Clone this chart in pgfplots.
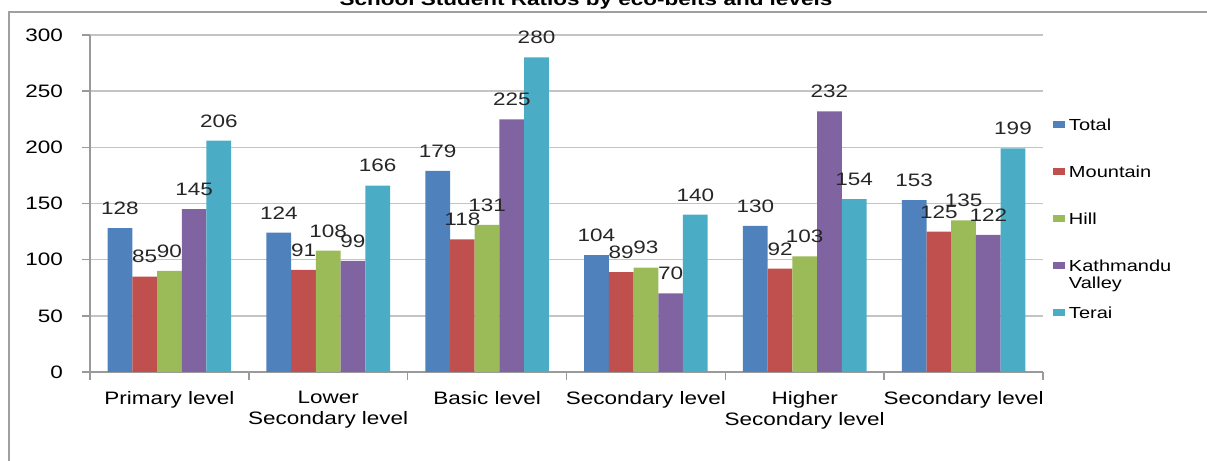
\documentclass[border=0pt]{standalone}
\usepackage{fontspec}
\setmainfont{Liberation Sans}[FakeStretch=1.25]
\usepackage{pgfplots}
\pgfplotsset{compat=1.18}

\definecolor{cTotal}{HTML}{4F81BD}
\definecolor{cMountain}{HTML}{C0504D}
\definecolor{cHill}{HTML}{9BBB59}
\definecolor{cKtm}{HTML}{8064A2}
\definecolor{cTerai}{HTML}{4BACC6}
\definecolor{gridgrey}{HTML}{C4C4C4}
\definecolor{axgrey}{HTML}{9A9A9A}
\definecolor{framegrey}{HTML}{A0A0A0}

\begin{document}
\begin{tikzpicture}[x=1pt,y=1pt]
\begin{axis}[
    at={(0,0)}, anchor=south west,
    width=476.5pt, height=168.5pt, scale only axis,
    ybar=0pt, bar width=0.1556,
    xmin=-0.5, xmax=5.5, ymin=0, ymax=300,
    ytick={0,50,...,300},
    xtick={-0.5,0.5,...,5.5},
    x tick label as interval,
    xticklabels={Primary level, {Lower\\Secondary level}, Basic level, Secondary level, {Higher\\Secondary level}, Secondary level},
    xticklabel style={align=center, font=\fontsize{9}{10.5}\selectfont, yshift=-2pt},
    yticklabel style={font=\fontsize{9}{10.5}\selectfont, xshift=-6pt},
    /pgf/number format/assume math mode=true,
    axis x line*=bottom, axis y line*=left,
    axis line style={draw=axgrey, line width=0.75pt, -},
    tick align=outside, tick style={axgrey, line width=0.75pt},
    major tick length=4pt,
    ymajorgrids, grid style={gridgrey, line width=0.75pt},
    nodes near coords,
    every node near coord/.append style={font=\fontsize{9}{10.5}\selectfont, inner sep=0pt, yshift=6.5pt, anchor=south, text=black!85},
    legend style={at={(1.0105,0.751)}, anchor=north west, draw=none, fill=none,
        inner sep=0pt, outer sep=0pt, font=\fontsize{8}{9}\selectfont,
        row sep=17.45pt, column sep=2pt,
        nodes={inner sep=0pt, text height=6pt, text depth=0pt}},
    legend cell align=left,
    legend image code/.code={\fill[#1] (0pt,-1.6pt) rectangle (6pt,1.9pt);},
]
% Total
\addplot[fill=cTotal, draw=none] coordinates {(0,128) (1,124) (2,179) (3,104) (4,130) (5,153)};
\addlegendentry{Total}
% Mountain
\addplot[fill=cMountain, draw=none] coordinates {(0,85) (1,91) (2,118) (3,89) (4,92) (5,125)};
\addlegendentry{Mountain}
% Hill
\addplot[fill=cHill, draw=none] coordinates {(0,90) (1,108) (2,131) (3,93) (4,103) (5,135)};
\addlegendentry{Hill}
% Kathmandu Valley
\addplot[fill=cKtm, draw=none] coordinates {(0,145) (1,99) (2,225) (3,70) (4,232) (5,122)};
\addlegendentry{\rlap{\smash{\raisebox{-8.5pt}{Valley}}}Kathmandu}
% Terai
\addplot[fill=cTerai, draw=none] coordinates {(0,206) (1,166) (2,280) (3,140) (4,154) (5,199)};
\addlegendentry{Terai}
\end{axis}
\draw[framegrey, line width=1pt] (-40.5,-50) -- (-40.5,180) -- (565,180);
\node[font=\bfseries\fontsize{9}{10}\selectfont, anchor=base] at (248,183) {School Student Ratios by eco-belts and levels};
\pgfresetboundingbox
\useasboundingbox (-45,-44.5) rectangle (558.5,186);
\end{tikzpicture}
\end{document}
